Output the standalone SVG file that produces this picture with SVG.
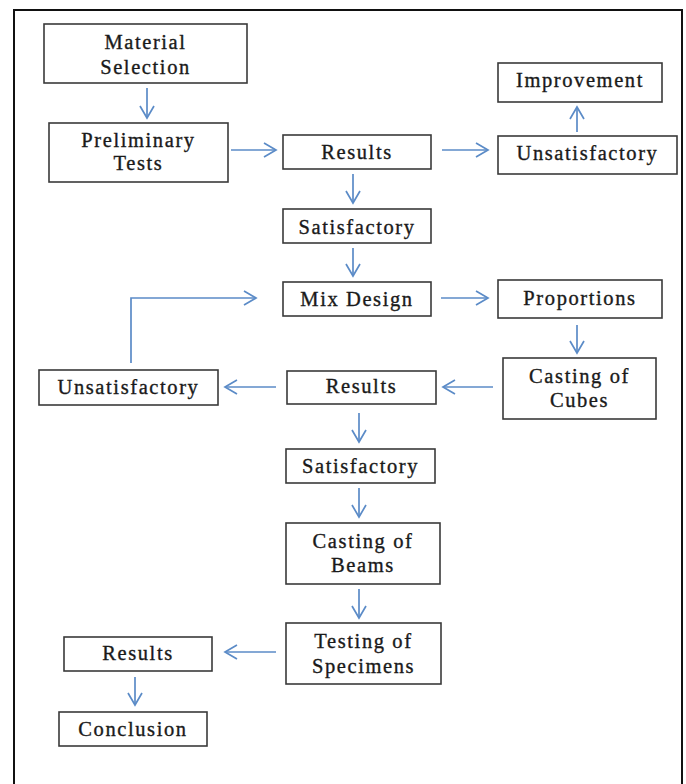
<svg xmlns="http://www.w3.org/2000/svg" width="686" height="784" viewBox="0 0 686 784">
<defs>
<style>
.box{fill:#fff;stroke:#3a3a3a;stroke-width:1.6}
.t{font-family:"Liberation Serif","Times New Roman",serif;font-size:20.5px;fill:#1a1a1a;stroke:#1a1a1a;stroke-width:0.35;text-anchor:middle;letter-spacing:1.6px}
.c{fill:none;stroke:#5b8bc7;stroke-width:1.7}
</style>
<marker id="ah" markerUnits="userSpaceOnUse" markerWidth="16" markerHeight="18" refX="13" refY="8" orient="auto">
<path d="M1,1 L13,8 L1,15" fill="none" stroke="#5b8bc7" stroke-width="1.7"/>
</marker>
</defs>
<rect width="686" height="784" fill="#fff"/>
<rect x="14" y="10" width="668" height="800" fill="none" stroke="#111" stroke-width="2"/>

<g id="connectors">
<line class="c" x1="147" y1="88" x2="147" y2="118" marker-end="url(#ah)"/>
<line class="c" x1="231" y1="150" x2="276" y2="150" marker-end="url(#ah)"/>
<line class="c" x1="442" y1="150" x2="488" y2="150" marker-end="url(#ah)"/>
<line class="c" x1="577" y1="132" x2="577" y2="107" marker-end="url(#ah)"/>
<line class="c" x1="353" y1="174" x2="353" y2="203" marker-end="url(#ah)"/>
<line class="c" x1="353" y1="248" x2="353" y2="276" marker-end="url(#ah)"/>
<path class="c" d="M131,363 V298 H256" marker-end="url(#ah)"/>
<line class="c" x1="441" y1="298" x2="488" y2="298" marker-end="url(#ah)"/>
<line class="c" x1="577" y1="325" x2="577" y2="353" marker-end="url(#ah)"/>
<line class="c" x1="493" y1="387" x2="443" y2="387" marker-end="url(#ah)"/>
<line class="c" x1="276" y1="387" x2="225" y2="387" marker-end="url(#ah)"/>
<line class="c" x1="359" y1="413" x2="359" y2="442" marker-end="url(#ah)"/>
<line class="c" x1="359" y1="488" x2="359" y2="517" marker-end="url(#ah)"/>
<line class="c" x1="359" y1="589" x2="359" y2="618" marker-end="url(#ah)"/>
<line class="c" x1="276" y1="652" x2="225" y2="652" marker-end="url(#ah)"/>
<line class="c" x1="135" y1="677" x2="135" y2="705" marker-end="url(#ah)"/>
</g>

<g id="material-selection"><rect class="box" x="44" y="24" width="203" height="59"/><text class="t" x="145.5" y="49">Material</text><text class="t" x="145.5" y="74">Selection</text></g>
<g id="preliminary-tests"><rect class="box" x="49" y="123" width="179" height="59"/><text class="t" x="138.5" y="147">Preliminary</text><text class="t" x="138.5" y="170">Tests</text></g>
<g id="results-1"><rect class="box" x="283" y="135" width="148" height="34"/><text class="t" x="357" y="159">Results</text></g>
<g id="improvement"><rect class="box" x="498" y="63" width="164" height="39"/><text class="t" x="580" y="87">Improvement</text></g>
<g id="unsatisfactory-1"><rect class="box" x="498" y="136" width="179" height="38"/><text class="t" x="587.5" y="160">Unsatisfactory</text></g>
<g id="satisfactory-1"><rect class="box" x="283" y="209" width="148" height="34"/><text class="t" x="357" y="234">Satisfactory</text></g>
<g id="mix-design"><rect class="box" x="283" y="282" width="148" height="34"/><text class="t" x="357" y="306">Mix Design</text></g>
<g id="proportions"><rect class="box" x="498" y="280" width="164" height="38"/><text class="t" x="580" y="305">Proportions</text></g>
<g id="casting-cubes"><rect class="box" x="503" y="358" width="153" height="61"/><text class="t" x="579.5" y="383">Casting of</text><text class="t" x="579.5" y="407">Cubes</text></g>
<g id="results-2"><rect class="box" x="287" y="371" width="149" height="33"/><text class="t" x="361.5" y="393">Results</text></g>
<g id="unsatisfactory-2"><rect class="box" x="39" y="370" width="179" height="35"/><text class="t" x="128.5" y="394">Unsatisfactory</text></g>
<g id="satisfactory-2"><rect class="box" x="286" y="449" width="149" height="34"/><text class="t" x="360.5" y="473">Satisfactory</text></g>
<g id="casting-beams"><rect class="box" x="286" y="523" width="154" height="61"/><text class="t" x="363" y="548">Casting of</text><text class="t" x="363" y="572">Beams</text></g>
<g id="testing-specimens"><rect class="box" x="286" y="623" width="155" height="61"/><text class="t" x="363.5" y="648">Testing of</text><text class="t" x="363.5" y="673">Specimens</text></g>
<g id="results-3"><rect class="box" x="64" y="637" width="148" height="34"/><text class="t" x="138" y="660">Results</text></g>
<g id="conclusion"><rect class="box" x="59" y="712" width="148" height="34"/><text class="t" x="133" y="736">Conclusion</text></g>
</svg>
